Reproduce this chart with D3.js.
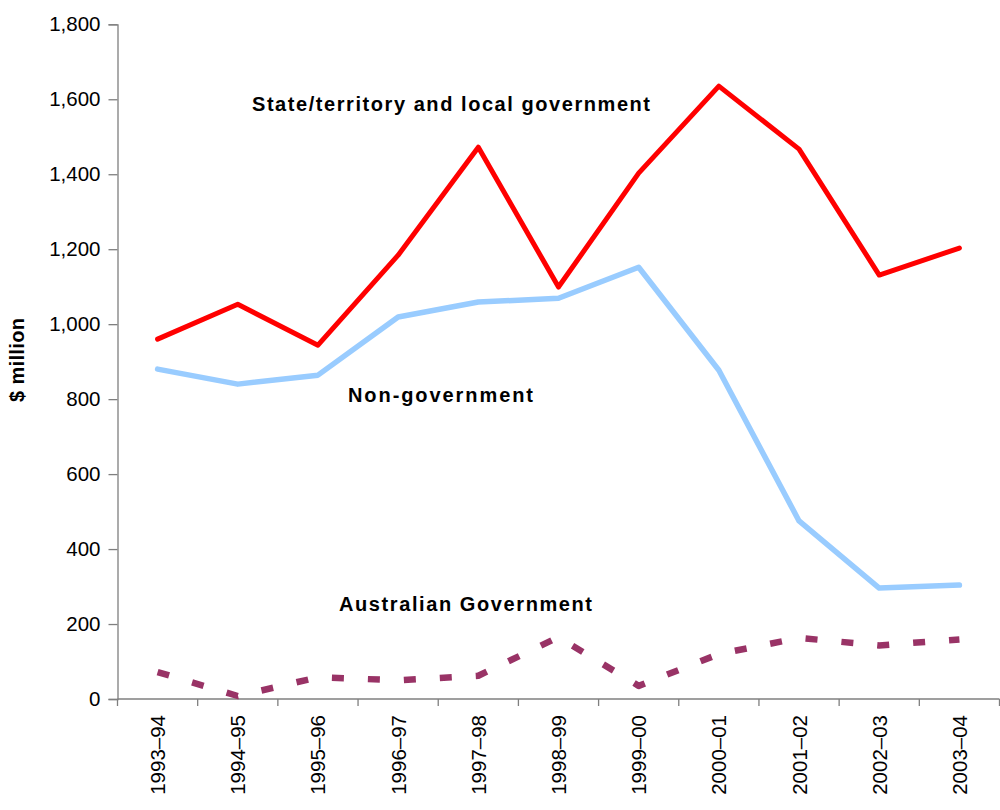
<!DOCTYPE html>
<html>
<head>
<meta charset="utf-8">
<script src="https://cdn.jsdelivr.net/npm/d3@7"></script>
<style>
  html, body { margin: 0; padding: 0; background: #fff; }
  svg { display: block; font-family: "Liberation Sans", Arial, sans-serif; }
</style>
</head>
<body>
<svg id="chart" width="1000" height="810"></svg>
<script>
// Financial years on the category axis
const years = ["1993–94", "1994–95", "1995–96", "1996–97", "1997–98", "1998–99",
               "1999–00", "2000–01", "2001–02", "2002–03", "2003–04"];

// Expenditure by source of funds, $ million
const stateLocal = [960, 1053, 944, 1184, 1472, 1099, 1403, 1635, 1467, 1131, 1203];
const nonGov     = [880, 840, 864, 1019, 1059, 1069, 1152, 877, 475, 296, 304];
const ausGov     = [72, 8, 58, 50, 62, 165, 35, 120, 163, 143, 159];

const yTicks = [0, 200, 400, 600, 800, 1000, 1200, 1400, 1600, 1800];

const svg = d3.select("#chart");
const plot = { left: 117.5, right: 999.5, top: 24.3, bottom: 699 };

const x = d3.scaleBand().domain(years).range([plot.left, plot.right]).padding(0);
const y = d3.scaleLinear().domain([0, 1800]).range([plot.bottom, plot.top]);
const cx = d => x(d) + x.bandwidth() / 2;

const axisColor = "#7f7f7f";

// Y axis
const yAxis = svg.append("g")
  .attr("transform", `translate(${plot.left},0)`)
  .call(d3.axisLeft(y).tickValues(yTicks).tickSize(9).tickPadding(8)
        .tickFormat(d3.format(",")));
yAxis.select(".domain").attr("stroke", axisColor).attr("stroke-width", 1.3);
yAxis.selectAll(".tick line").attr("stroke", axisColor).attr("stroke-width", 1.3);
yAxis.selectAll(".tick text")
  .attr("font-size", 20.5).attr("fill", "#000")
  .attr("font-family", "Liberation Sans, Arial, sans-serif");

// X axis: baseline with ticks on category boundaries
const bounds = d3.range(years.length + 1).map(i => plot.left + i * x.step());
const xg = svg.append("g");
xg.append("line")
  .attr("x1", plot.left).attr("x2", plot.right)
  .attr("y1", plot.bottom).attr("y2", plot.bottom)
  .attr("stroke", axisColor).attr("stroke-width", 1.3);
xg.selectAll("line.tk").data(bounds).join("line").attr("class", "tk")
  .attr("x1", d => d).attr("x2", d => d)
  .attr("y1", plot.bottom).attr("y2", plot.bottom + 7)
  .attr("stroke", axisColor).attr("stroke-width", 1.3);
xg.selectAll("text").data(years).join("text")
  .attr("transform", d => `translate(${cx(d) + 7.5},${plot.bottom + 16}) rotate(-90)`)
  .attr("text-anchor", "end")
  .attr("font-size", 20.5)
  .attr("fill", "#000")
  .text(d => d);

// Y axis title
svg.append("text")
  .attr("transform", `translate(24,360) rotate(-90)`)
  .attr("text-anchor", "middle")
  .attr("font-size", 20).attr("font-weight", "bold")
  .attr("textLength", 84).attr("lengthAdjust", "spacing")
  .text("$ million");

const line = d3.line().x((d, i) => cx(years[i])).y(d => y(d));

// Series lines
svg.append("path").datum(nonGov)
  .attr("d", line).attr("fill", "none")
  .attr("stroke", "#99ccff").attr("stroke-width", 5.5)
  .attr("stroke-linejoin", "round").attr("stroke-linecap", "round");

svg.append("path").datum(stateLocal)
  .attr("d", line).attr("fill", "none")
  .attr("stroke", "#ff0000").attr("stroke-width", 5)
  .attr("stroke-linejoin", "round").attr("stroke-linecap", "round");

svg.append("path").datum(ausGov)
  .attr("d", line).attr("fill", "none")
  .attr("stroke", "#993366").attr("stroke-width", 6.5)
  .attr("stroke-dasharray", "12,24")
  .attr("stroke-linejoin", "round").attr("stroke-linecap", "butt");

// Series labels
const labels = [
  { text: "State/territory and local government", x: 252, y: 111, len: 398 },
  { text: "Non-government", x: 348, y: 402, len: 185 },
  { text: "Australian Government", x: 339, y: 611, len: 253 }
];
svg.selectAll("text.series").data(labels).join("text").attr("class", "series")
  .attr("x", d => d.x).attr("y", d => d.y)
  .attr("font-size", 20).attr("font-weight", "bold").attr("fill", "#000")
  .attr("textLength", d => d.len).attr("lengthAdjust", "spacing")
  .text(d => d.text);
</script>
</body>
</html>
